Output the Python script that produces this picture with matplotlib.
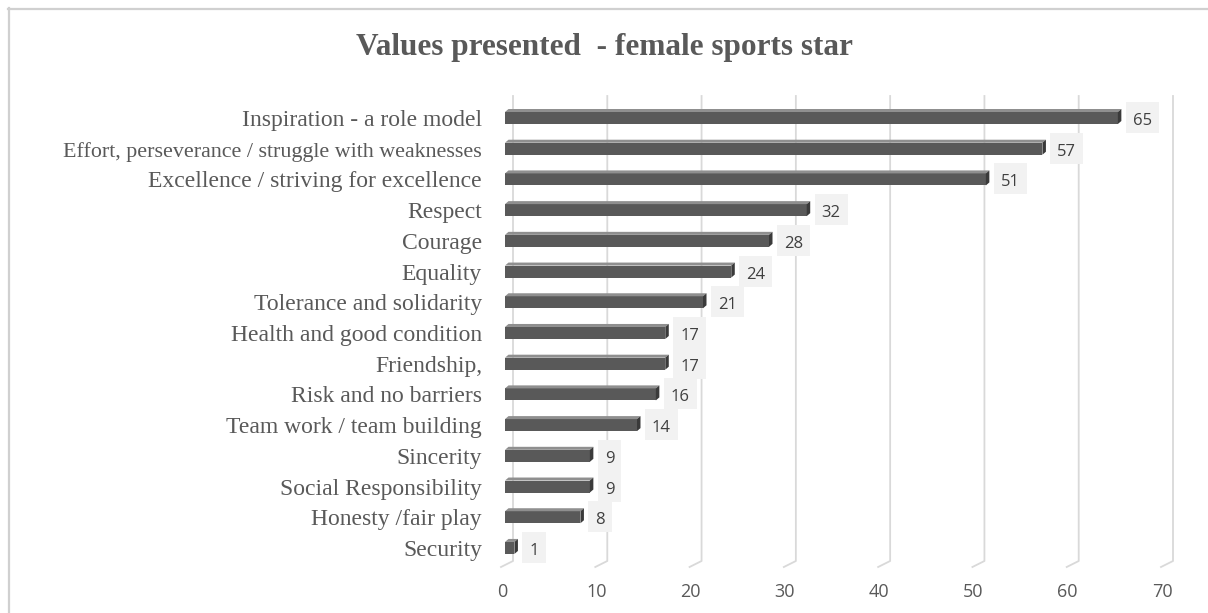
import matplotlib
matplotlib.use("Agg")
import matplotlib.pyplot as plt
from matplotlib.patches import Rectangle, Polygon
from matplotlib.lines import Line2D

# ---- data ---------------------------------------------------------------
categories = [
    "Inspiration - a role model",
    "Effort, perseverance / struggle with weaknesses",
    "Excellence / striving for excellence",
    "Respect",
    "Courage",
    "Equality",
    "Tolerance and solidarity",
    "Health and good condition",
    "Friendship,",
    "Risk and no barriers",
    "Team work / team building",
    "Sincerity",
    "Social Responsibility",
    "Honesty /fair play",
    "Security",
]
values = [65, 57, 51, 32, 28, 24, 21, 17, 17, 16, 14, 9, 9, 8, 1]
x_ticks = [0, 10, 20, 30, 40, 50, 60, 70]
title = "Values presented  - female sports star"

# ---- layout (pixels) ----------------------------------------------------
W, H, DPI = 1208, 613, 100
fig = plt.figure(figsize=(W / DPI, H / DPI), dpi=DPI)
fig.patch.set_facecolor("white")

x0_px, x1_px = 505, 1165          # front plane: 0 .. 70
row0_px, row_step = 117.0, 30.71  # centre of first row, row spacing
ax_top_px, ax_bot_px = 90, 575

ax = fig.add_axes([x0_px / W, 1 - ax_bot_px / H,
                   (x1_px - x0_px) / W, (ax_bot_px - ax_top_px) / H])
ax.set_xlim(0, 70)
ax.set_ylim((ax_bot_px - row0_px) / row_step, (ax_top_px - row0_px) / row_step)
ax.axis("off")

px_x = 70.0 / (x1_px - x0_px)   # data units per pixel (x)
px_y = 1.0 / row_step           # data units per pixel (y, downward)


def yrow(py):
    return (py - row0_px) / row_step


TEXT_GREY = "#595959"
GRID = "#d9d9d9"
LABEL_MAX_W = 420  # long category labels are shrunk to fit this width (px)

# ---- back-wall gridlines with floor diagonal ----------------------------
for v in x_ticks:
    ax.add_line(Line2D([v + 8 * px_x, v + 8 * px_x, v - 4 * px_x],
                       [yrow(96), yrow(561), yrow(567)],
                       color=GRID, lw=1.3, clip_on=False, zorder=0))
    ax.text(v - 3 * px_x, yrow(597), str(v), ha="center", va="baseline",
            family="Open Sans", fontsize=13, color=TEXT_GREY, clip_on=False)

# ---- 3D-style bars ------------------------------------------------------
FRONT = "#595959"
TOP = "#8f8f8f"
CAP = "#3a3a3a"
dx, dy = 3.5 * px_x, 3 * px_y
cat_texts = []
for i, (cat, v) in enumerate(zip(categories, values)):
    top = i - 5 * px_y
    bot = i + 7 * px_y
    ax.add_patch(Rectangle((0, top), v, bot - top, fc=FRONT, ec="none", zorder=3))
    ax.add_patch(Polygon([(0, top), (v, top), (v + dx, top - dy), (dx, top - dy)],
                         closed=True, fc=TOP, ec="none", zorder=3))
    ax.add_patch(Polygon([(v, top), (v + dx, top - dy), (v + dx, bot - dy), (v, bot)],
                         closed=True, fc=CAP, ec="none", zorder=3))
    # category label
    cat_texts.append(ax.text(-23 * px_x, i + 9 * px_y, cat, ha="right",
                             va="baseline", family="Liberation Serif",
                             fontsize=17, color=TEXT_GREY, clip_on=False))

# ---- value labels on light boxes ----------------------------------------
fig.canvas.draw()
renderer = fig.canvas.get_renderer()

for t in cat_texts:
    w = t.get_window_extent(renderer).width
    if w > LABEL_MAX_W:
        t.set_fontsize(17 * LABEL_MAX_W / w)

for i, v in enumerate(values):
    t = ax.text(0, i + 8 * px_y, str(v), ha="center", va="baseline",
                family="Open Sans", fontsize=12, color="#404040", zorder=6,
                clip_on=False)
    w_px = t.get_window_extent(renderer).width
    box_w = w_px + 14
    left = v + 8 * px_x
    t.set_x(left + box_w / 2 * px_x)
    ax.add_patch(Rectangle((left, i - 15 * px_y), box_w * px_x, 31 * px_y,
                           fc="#f2f2f2", ec="none", zorder=5, clip_on=False))

# ---- title --------------------------------------------------------------
fig.text(604 / W, 1 - 55 / H, title, ha="center", va="baseline",
         family="Liberation Serif", fontweight="bold", fontsize=22.5,
         color=TEXT_GREY)

# ---- chart-area border (top and left edges) -----------------------------
fig.add_artist(Line2D([8 / W, 1.0], [1 - 9 / H, 1 - 9 / H],
                      transform=fig.transFigure, color="#d0d0d0", lw=1.6))
fig.add_artist(Line2D([9 / W, 9 / W], [0.0, 1 - 8 / H],
                      transform=fig.transFigure, color="#d0d0d0", lw=1.6))

fig.savefig("out.png", dpi=DPI)
